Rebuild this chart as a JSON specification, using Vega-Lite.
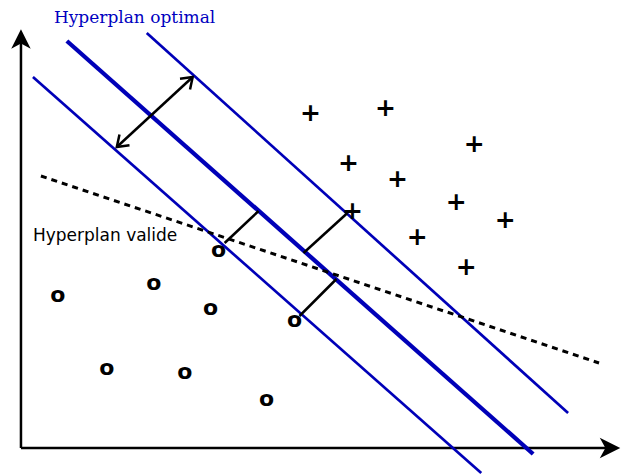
{
  "$schema": "https://vega.github.io/schema/vega-lite/v6.json",
  "width": 621,
  "height": 475,
  "padding": 0,
  "autosize": {"type": "fit", "contains": "padding"},
  "config": {"view": {"stroke": null}},
  "datasets": {
    "axes": [
      {"axis": "x2", "x": 0, "y": 0, "x2": 590, "y2": 0},
      {"axis": "x1", "x": 0, "y": 0, "x2": 0, "y2": 405}
    ],
    "axisHeadsY": [{"x": 0, "y": 409}],
    "axisHeadsX": [{"x": 590, "y": 0}],
    "hyperplanes": [
      {"id": "marge-", "type": "marge", "x": 12, "y": 371, "x2": 461, "y2": -25},
      {"id": "optimal", "type": "optimal", "x": 46, "y": 407, "x2": 513, "y2": -6},
      {"id": "marge+", "type": "marge", "x": 126, "y": 415, "x2": 548, "y2": 35}
    ],
    "valide": [{"x": 20, "y": 272, "x2": 579, "y2": 85}],
    "distances": [
      {"x": 238, "y": 237, "x2": 204, "y2": 205},
      {"x": 327, "y": 235, "x2": 283, "y2": 195},
      {"x": 316, "y": 169, "x2": 279, "y2": 132}
    ],
    "marge": [{"x": 96, "y": 301, "x2": 172, "y2": 371}],
    "margeTipUp": [{"x": 172, "y": 371}],
    "margeTipDown": [{"x": 96, "y": 301}],
    "points": [
      {"x": 290, "y": 335, "classe": "+"},
      {"x": 365, "y": 340, "classe": "+"},
      {"x": 454, "y": 304, "classe": "+"},
      {"x": 328, "y": 285, "classe": "+"},
      {"x": 377, "y": 269, "classe": "+"},
      {"x": 436, "y": 246, "classe": "+"},
      {"x": 332, "y": 237, "classe": "+"},
      {"x": 485, "y": 228, "classe": "+"},
      {"x": 397, "y": 211, "classe": "+"},
      {"x": 446, "y": 181, "classe": "+"},
      {"x": 37, "y": 153, "classe": "o"},
      {"x": 133, "y": 165, "classe": "o"},
      {"x": 190, "y": 140, "classe": "o"},
      {"x": 274, "y": 128, "classe": "o"},
      {"x": 86, "y": 80, "classe": "o"},
      {"x": 164, "y": 76, "classe": "o"},
      {"x": 246, "y": 49, "classe": "o"},
      {"x": 198, "y": 198, "classe": "o"}
    ],
    "labelOptimal": [{"x": 33, "y": 425, "label": "Hyperplan optimal"}],
    "labelValide": [{"x": 12, "y": 207, "label": "Hyperplan valide"}]
  },
  "layer": [
    {
      "data": {"name": "axes"},
      "mark": {"type": "rule", "color": "black", "strokeWidth": 2.5},
      "encoding": {
        "x": {"field": "x", "type": "quantitative", "scale": {"domain": [-21, 600], "nice": false, "zero": false}, "axis": null},
        "y": {"field": "y", "type": "quantitative", "scale": {"domain": [-27, 448], "nice": false, "zero": false}, "axis": null},
        "x2": {"field": "x2"},
        "y2": {"field": "y2"}
      }
    },
    {
      "data": {"name": "axisHeadsY"},
      "mark": {"type": "point", "shape": "M0,-1L1,1L0,0.45L-1,1Z", "filled": true, "color": "black", "opacity": 1, "size": 380, "angle": 0},
      "encoding": {
        "x": {"field": "x", "type": "quantitative", "scale": {"domain": [-21, 600], "nice": false, "zero": false}, "axis": null},
        "y": {"field": "y", "type": "quantitative", "scale": {"domain": [-27, 448], "nice": false, "zero": false}, "axis": null}
      }
    },
    {
      "data": {"name": "axisHeadsX"},
      "mark": {"type": "point", "shape": "M0,-1L1,1L0,0.45L-1,1Z", "filled": true, "color": "black", "opacity": 1, "size": 420, "angle": 90},
      "encoding": {
        "x": {"field": "x", "type": "quantitative", "scale": {"domain": [-21, 600], "nice": false, "zero": false}, "axis": null},
        "y": {"field": "y", "type": "quantitative", "scale": {"domain": [-27, 448], "nice": false, "zero": false}, "axis": null}
      }
    },
    {
      "data": {"name": "hyperplanes"},
      "transform": [{"filter": "datum.type === 'marge'"}],
      "mark": {"type": "rule", "color": "#0000b8", "strokeWidth": 2.7},
      "encoding": {
        "x": {"field": "x", "type": "quantitative", "scale": {"domain": [-21, 600], "nice": false, "zero": false}, "axis": null},
        "y": {"field": "y", "type": "quantitative", "scale": {"domain": [-27, 448], "nice": false, "zero": false}, "axis": null},
        "x2": {"field": "x2"},
        "y2": {"field": "y2"}
      }
    },
    {
      "data": {"name": "hyperplanes"},
      "transform": [{"filter": "datum.type === 'optimal'"}],
      "mark": {"type": "rule", "color": "#0000b8", "strokeWidth": 4.3},
      "encoding": {
        "x": {"field": "x", "type": "quantitative", "scale": {"domain": [-21, 600], "nice": false, "zero": false}, "axis": null},
        "y": {"field": "y", "type": "quantitative", "scale": {"domain": [-27, 448], "nice": false, "zero": false}, "axis": null},
        "x2": {"field": "x2"},
        "y2": {"field": "y2"}
      }
    },
    {
      "data": {"name": "valide"},
      "mark": {"type": "rule", "color": "black", "strokeWidth": 3, "strokeDash": [6, 5]},
      "encoding": {
        "x": {"field": "x", "type": "quantitative", "scale": {"domain": [-21, 600], "nice": false, "zero": false}, "axis": null},
        "y": {"field": "y", "type": "quantitative", "scale": {"domain": [-27, 448], "nice": false, "zero": false}, "axis": null},
        "x2": {"field": "x2"},
        "y2": {"field": "y2"}
      }
    },
    {
      "data": {"name": "distances"},
      "mark": {"type": "rule", "color": "black", "strokeWidth": 2.5},
      "encoding": {
        "x": {"field": "x", "type": "quantitative", "scale": {"domain": [-21, 600], "nice": false, "zero": false}, "axis": null},
        "y": {"field": "y", "type": "quantitative", "scale": {"domain": [-27, 448], "nice": false, "zero": false}, "axis": null},
        "x2": {"field": "x2"},
        "y2": {"field": "y2"}
      }
    },
    {
      "data": {"name": "marge"},
      "mark": {"type": "rule", "color": "black", "strokeWidth": 2.5},
      "encoding": {
        "x": {"field": "x", "type": "quantitative", "scale": {"domain": [-21, 600], "nice": false, "zero": false}, "axis": null},
        "y": {"field": "y", "type": "quantitative", "scale": {"domain": [-27, 448], "nice": false, "zero": false}, "axis": null},
        "x2": {"field": "x2"},
        "y2": {"field": "y2"}
      }
    },
    {
      "data": {"name": "margeTipUp"},
      "mark": {"type": "point", "shape": "M-0.7,1L0,0L0.7,1", "filled": false, "color": "black", "opacity": 1, "strokeWidth": 2.5, "size": 440, "angle": 47},
      "encoding": {
        "x": {"field": "x", "type": "quantitative", "scale": {"domain": [-21, 600], "nice": false, "zero": false}, "axis": null},
        "y": {"field": "y", "type": "quantitative", "scale": {"domain": [-27, 448], "nice": false, "zero": false}, "axis": null}
      }
    },
    {
      "data": {"name": "margeTipDown"},
      "mark": {"type": "point", "shape": "M-0.7,1L0,0L0.7,1", "filled": false, "color": "black", "opacity": 1, "strokeWidth": 2.5, "size": 440, "angle": 227},
      "encoding": {
        "x": {"field": "x", "type": "quantitative", "scale": {"domain": [-21, 600], "nice": false, "zero": false}, "axis": null},
        "y": {"field": "y", "type": "quantitative", "scale": {"domain": [-27, 448], "nice": false, "zero": false}, "axis": null}
      }
    },
    {
      "data": {"name": "points"},
      "mark": {"type": "text", "font": "DejaVu Sans", "fontWeight": "bold", "color": "black", "align": "center", "baseline": "middle"},
      "encoding": {
        "x": {"field": "x", "type": "quantitative", "scale": {"domain": [-21, 600], "nice": false, "zero": false}, "axis": null},
        "y": {"field": "y", "type": "quantitative", "scale": {"domain": [-27, 448], "nice": false, "zero": false}, "axis": null},
        "text": {"field": "classe"},
        "size": {"field": "classe", "type": "nominal", "scale": {"domain": ["+", "o"], "range": [25, 22]}, "legend": null}
      }
    },
    {
      "data": {"name": "labelOptimal"},
      "mark": {"type": "text", "font": "DejaVu Serif", "fontSize": 17, "color": "#0000c0", "align": "left", "baseline": "alphabetic"},
      "encoding": {
        "x": {"field": "x", "type": "quantitative", "scale": {"domain": [-21, 600], "nice": false, "zero": false}, "axis": null},
        "y": {"field": "y", "type": "quantitative", "scale": {"domain": [-27, 448], "nice": false, "zero": false}, "axis": null},
        "text": {"field": "label"}
      }
    },
    {
      "data": {"name": "labelValide"},
      "mark": {"type": "text", "font": "DejaVu Sans", "fontSize": 17, "color": "black", "align": "left", "baseline": "alphabetic"},
      "encoding": {
        "x": {"field": "x", "type": "quantitative", "scale": {"domain": [-21, 600], "nice": false, "zero": false}, "axis": null},
        "y": {"field": "y", "type": "quantitative", "scale": {"domain": [-27, 448], "nice": false, "zero": false}, "axis": null},
        "text": {"field": "label"}
      }
    }
  ]
}
